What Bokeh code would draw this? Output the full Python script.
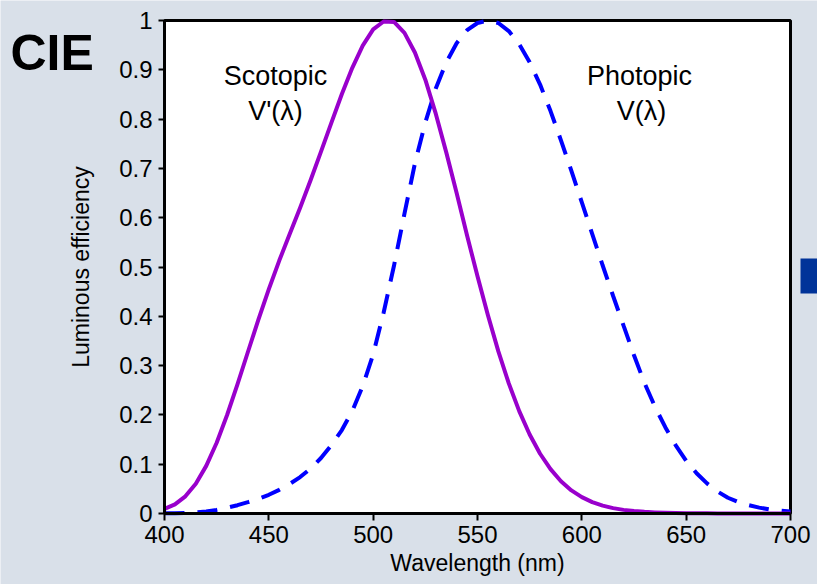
from bokeh.plotting import figure
from bokeh.models import (ColumnDataSource, Label, FixedTicker, CustomJSTickFormatter,
                          LinearAxis, Range1d)
from bokeh.embed import file_html
from bokeh.resources import INLINE

# ---- data (CIE luminous efficiency functions) ----
wavelength = [400, 405, 410, 415, 420, 425, 430, 435, 440, 445, 450, 455, 460, 465, 470, 475,
              480, 485, 490, 495, 500, 505, 510, 515, 520, 525, 530, 535, 540, 545, 550, 555,
              560, 565, 570, 575, 580, 585, 590, 595, 600, 605, 610, 615, 620, 625, 630, 635,
              640, 645, 650, 655, 660, 665, 670, 675, 680, 685, 690, 695, 700]

photopic = [0.000396, 0.00064, 0.00121, 0.00218, 0.004, 0.0073, 0.0116, 0.01684, 0.023, 0.0298,
            0.038, 0.048, 0.06, 0.0739, 0.09098, 0.1126, 0.13902, 0.1693, 0.20802, 0.2586,
            0.323, 0.4073, 0.503, 0.6082, 0.71, 0.7932, 0.862, 0.91485, 0.954, 0.9803,
            0.99495, 1.0, 0.995, 0.9786, 0.952, 0.9154, 0.87, 0.8163, 0.757, 0.6949,
            0.631, 0.5668, 0.503, 0.4412, 0.381, 0.321, 0.265, 0.217, 0.175, 0.1382,
            0.107, 0.0816, 0.061, 0.04458, 0.032, 0.0232, 0.017, 0.01192, 0.00821, 0.005723,
            0.004102]

scotopic = [0.00929, 0.01852, 0.03484, 0.0604, 0.0966, 0.1436, 0.1998, 0.2625, 0.3281, 0.3931,
            0.455, 0.513, 0.567, 0.62, 0.676, 0.734, 0.793, 0.851, 0.904, 0.949,
            0.982, 0.998, 0.997, 0.975, 0.935, 0.88, 0.811, 0.733, 0.65, 0.564,
            0.481, 0.402, 0.3288, 0.2639, 0.2076, 0.1602, 0.1212, 0.0899, 0.0655, 0.0469,
            0.03315, 0.0231, 0.01593, 0.01088, 0.00737, 0.00497, 0.003335, 0.002235, 0.001497, 0.001005,
            0.000677, 0.000459, 0.000313, 0.000215, 0.000148, 0.000103, 0.0000715, 0.00005, 0.0000353, 0.0000251,
            0.0000178]

x_ticks = [400, 450, 500, 550, 600, 650, 700]
y_ticks = [0, 0.1, 0.2, 0.3, 0.4, 0.5, 0.6, 0.7, 0.8, 0.9, 1.0]

# ---- layout constants ----
W, H = 817, 584
L, R, T, B = 164, 27, 20, 71          # plot-area margins inside the canvas (px)
FW, FH = W - L - R, H - T - B
X0, X1, Y0, Y1 = 400, 700, 0, 1
BG = "#d9e0e9"
FONT = "Liberation Sans"

def dx(px):
    return X0 + (px - L) * (X1 - X0) / FW

def dy(py):
    return Y0 + (T + FH - py) * (Y1 - Y0) / FH

# the frame covers the whole canvas so that the title and side marks are not clipped
p = figure(width=W, height=H, x_range=Range1d(dx(0), dx(W)), y_range=Range1d(dy(H), dy(0)),
           output_backend="svg", toolbar_location=None,
           x_axis_location=None, y_axis_location=None, min_border=0)
p.background_fill_color = BG
p.border_fill_color = BG
p.outline_line_color = None
p.grid.visible = False

# white plot area with black frame
p.quad(left=[X0], right=[X1], bottom=[Y0], top=[Y1], fill_color="white",
       line_color="black", line_width=3)

src = ColumnDataSource(dict(x=wavelength, phot=photopic, scot=scotopic))
p.line("x", "phot", source=src, line_color="#0000ff", line_width=4, line_dash="20 13")
p.line("x", "scot", source=src, line_color="#9900cc", line_width=4, line_join="round")

xaxis = LinearAxis(fixed_location=Y0, bounds=(X0, X1), ticker=FixedTicker(ticks=x_ticks),
                   axis_label="Wavelength (nm)")
yaxis = LinearAxis(fixed_location=X0, bounds=(Y0, Y1), ticker=FixedTicker(ticks=y_ticks),
                   formatter=CustomJSTickFormatter(code="return tick.toFixed(1).replace(/\\.0$/, '');"),
                   axis_label="Luminous efficiency")

for ax in (xaxis, yaxis):
    ax.axis_line_width = 3
    ax.axis_line_color = "black"
    ax.major_tick_line_width = 2
    ax.major_tick_line_color = "black"
    ax.major_tick_in = 0
    ax.minor_tick_line_color = None
    ax.major_label_text_font = FONT
    ax.major_label_text_font_size = "24px"
    ax.major_label_text_color = "black"
    ax.axis_label_text_font = FONT
    ax.axis_label_text_font_size = "23px"
    ax.axis_label_text_font_style = "normal"
    ax.axis_label_text_color = "black"

xaxis.major_tick_out = 7
yaxis.major_tick_out = 6
xaxis.major_label_standoff = 5
yaxis.major_label_standoff = 6
xaxis.axis_label_standoff = 4
yaxis.axis_label_standoff = 22

p.add_layout(xaxis, "below")
p.add_layout(yaxis, "left")

def add_text(txt, px, py, size, align="center", style="normal"):
    p.add_layout(Label(x=dx(px), y=dy(py), text=txt, text_font=FONT, text_font_size=size,
                       text_align=align, text_baseline="alphabetic", text_font_style=style,
                       text_color="black"))

add_text("CIE", 10, 52, "50px", align="left", style="bold")
add_text("Scotopic", 275, 75, "27px")
add_text("V'(\u03bb)", 275, 110, "27px")
add_text("Photopic", 639, 75, "27px")
add_text("V(\u03bb)", 641, 110, "27px")

# dark blue box at the right edge of the slide
p.quad(left=[dx(800)], right=[dx(W + 5)], top=[dy(258)], bottom=[dy(293)],
       fill_color="#003399", line_color=None)

open("out.html", "w").write(file_html(p, INLINE))
